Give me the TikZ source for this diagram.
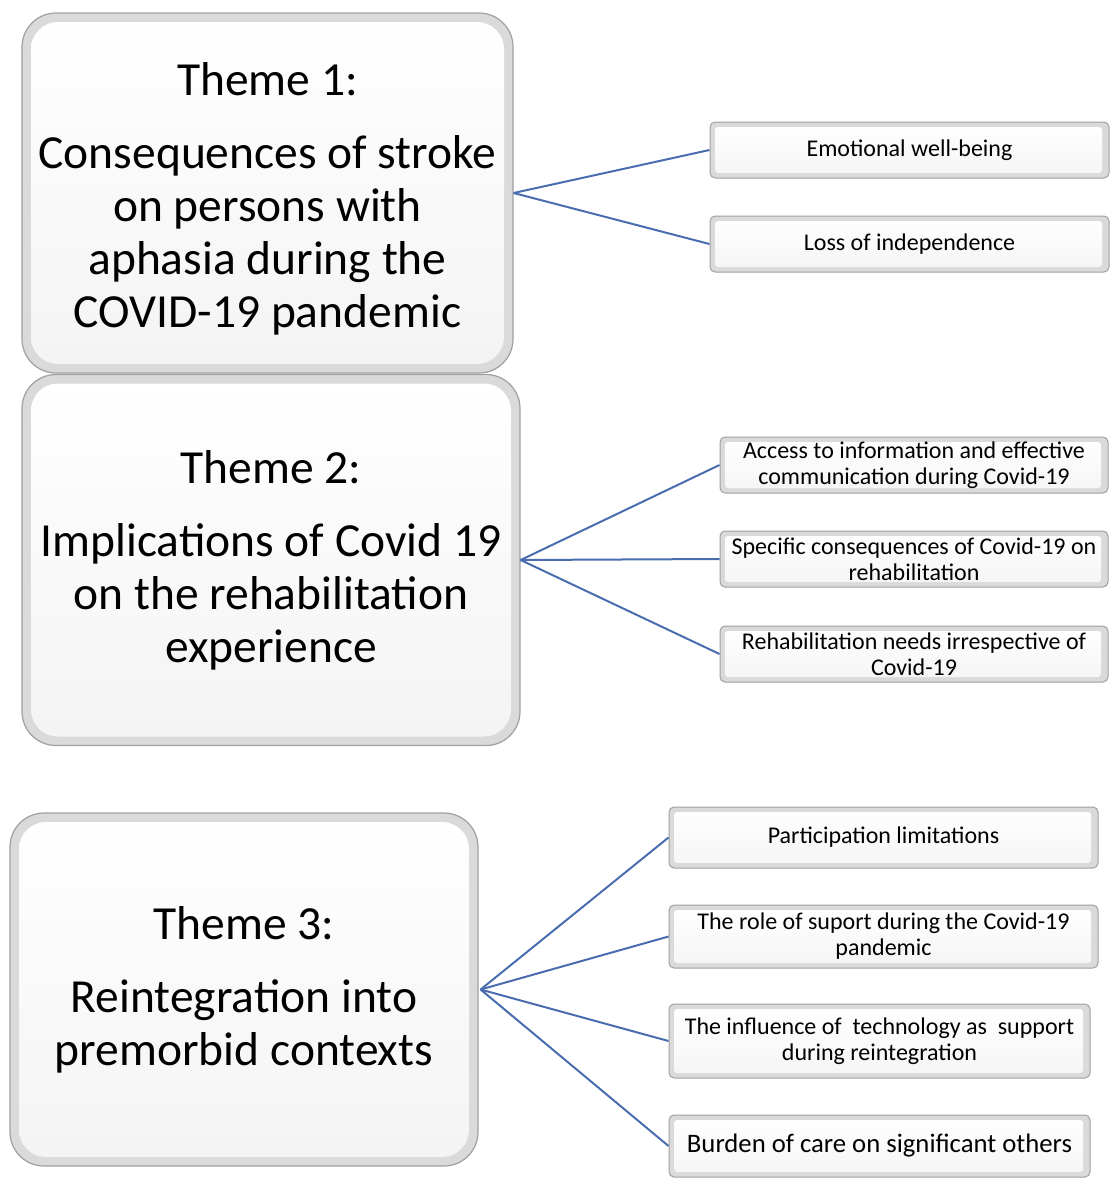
\documentclass[tikz,border=0pt]{standalone}
\usepackage{fontspec}
\setmainfont{Carlito}
\definecolor{conn}{HTML}{4A6DB0}
\definecolor{edge}{HTML}{A0A0A0}
\definecolor{bevel}{HTML}{DADADA}
\tikzset{
  themebox/.style={draw=edge, line width=1.2pt, fill=bevel, rounded corners=34pt,
    align=center, font=\fontsize{47.5}{53}\selectfont, inner sep=0pt,
    path picture={\shade[top color=white, bottom color=gray!9, rounded corners=27pt]
      ([shift={(9pt,-9pt)}]path picture bounding box.north west) rectangle
      ([shift={(-9pt,9pt)}]path picture bounding box.south east);}},
  subbox/.style={draw=edge, line width=1pt, fill=bevel, rounded corners=5pt,
    align=center, font=\fontsize{24}{26}\selectfont, inner sep=0pt,
    path picture={\shade[top color=white, bottom color=gray!8, rounded corners=3pt]
      ([shift={(5pt,-5pt)}]path picture bounding box.north west) rectangle
      ([shift={(-7pt,5pt)}]path picture bounding box.south east);}},
  link/.style={draw=conn, line width=2pt}
}
\begin{document}
\begin{tikzpicture}[x=1pt,y=-1pt]
\useasboundingbox (0,0) rectangle (1111,1195);
% Theme boxes
\node[themebox, minimum width=491pt, minimum height=360pt] (t1) at (267.5,193)
  {\rule{0pt}{45pt}Theme 1:\\[20pt]Consequences of stroke\\on persons with\\aphasia during the\\COVID-19 pandemic};
\node[themebox, minimum width=498pt, minimum height=371pt] (t2) at (271,560)
  {Theme 2:\\[20pt]Implications of Covid 19\\on the rehabilitation\\experience};
\node[themebox, minimum width=468pt, minimum height=353pt] (t3) at (244,989.5)
  {Theme 3:\\[20pt]Reintegration into\\premorbid contexts};
% Sub boxes theme 1
\node[subbox, minimum width=399pt, minimum height=56pt] (a1) at (909.5,150) {Emotional well-being};
\node[subbox, minimum width=399pt, minimum height=56pt] (a2) at (909.5,244) {Loss of independence};
% Sub boxes theme 2
\node[subbox, minimum width=388pt, minimum height=56pt] (b1) at (914,465) {Access to information and effective\\communication during Covid-19};
\node[subbox, minimum width=388pt, minimum height=56pt] (b2) at (914,559) {Specific consequences of Covid-19 on\\rehabilitation};
\node[subbox, minimum width=388pt, minimum height=56pt] (b3) at (914,654) {Rehabilitation needs irrespective of\\Covid-19};
% Sub boxes theme 3
\node[subbox, minimum width=429pt, minimum height=61pt] (c1) at (883.5,837.5) {Participation limitations};
\node[subbox, minimum width=429pt, minimum height=63pt] (c2) at (883.5,936.5) {The role of suport during the Covid-19\\pandemic};
\node[subbox, minimum width=421pt, minimum height=74pt] (c3) at (879.5,1041) {The influence of\ \ technology as\ \ support\\during reintegration};
\node[subbox, minimum width=421pt, minimum height=62pt, font=\fontsize{26.7}{30}\selectfont] (c4) at (879.5,1146) {Burden of care on significant others};
% Connectors
\draw[link] (t1.east) -- (a1.west);
\draw[link] (t1.east) -- (a2.west);
\draw[link] (t2.east) -- (b1.west);
\draw[link] (t2.east) -- (b2.west);
\draw[link] (t2.east) -- (b3.west);
\draw[link] ([xshift=2pt]t3.east) -- (c1.west);
\draw[link] ([xshift=2pt]t3.east) -- (c2.west);
\draw[link] ([xshift=2pt]t3.east) -- (c3.west);
\draw[link] ([xshift=2pt]t3.east) -- (c4.west);
\end{tikzpicture}
\end{document}
